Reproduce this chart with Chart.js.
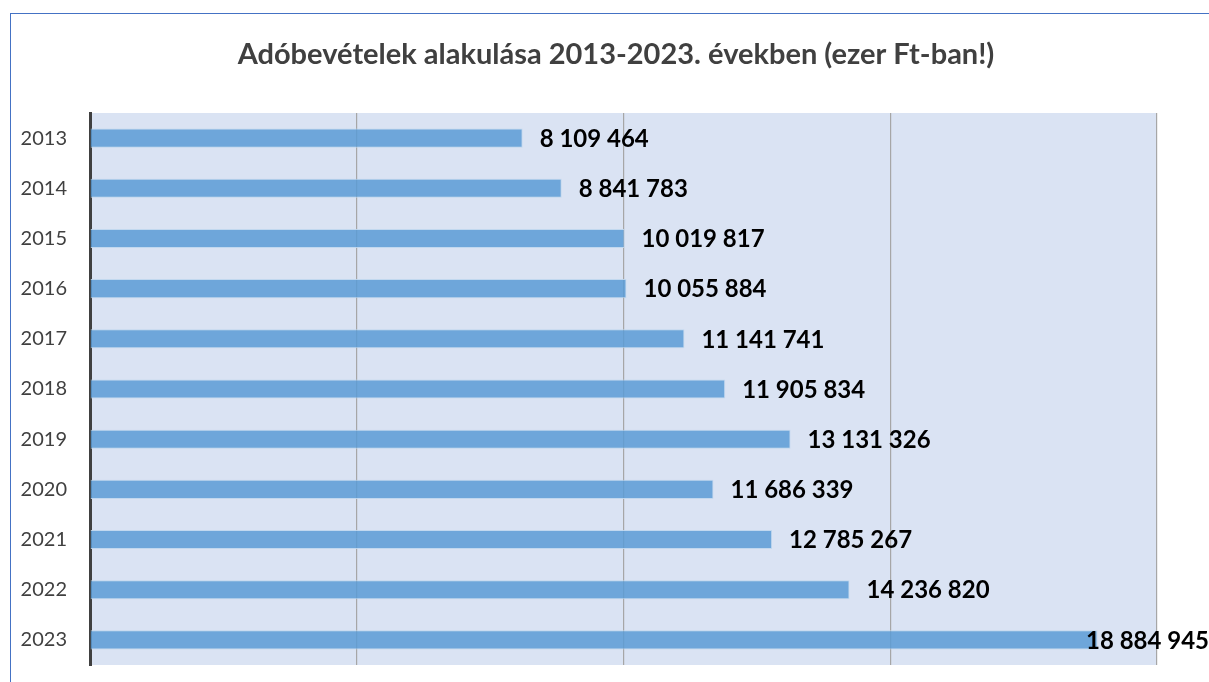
<!DOCTYPE html>
<html>
<head>
<meta charset="utf-8">
<script src="https://cdn.jsdelivr.net/npm/chart.js@4/dist/chart.umd.min.js"></script>
<style>
  html, body { margin: 0; padding: 0; background: #fff; overflow: hidden; }
  #frame { position: absolute; left: 10px; top: 13px; width: 1400px; height: 900px;
           border-left: 1.5px solid #4472c4; border-top: 1.5px solid #4472c4; }
  canvas { position: absolute; left: 0; top: 0; }
</style>
</head>
<body>
<div id="frame"></div>
<canvas id="chart" width="1209" height="682"></canvas>
<script>
const title = "Adóbevételek alakulása 2013-2023. években (ezer Ft-ban!)"
const years = ["2013", "2014", "2015", "2016", "2017", "2018", "2019", "2020", "2021", "2022", "2023"]
const revenue = [8109464, 8841783, 10019817, 10055884, 11141741, 11905834, 13131326, 11686339, 12785267, 14236820, 18884945]
const xMin = 0
const xMax = 20000000
const xStep = 5000000

const fmt = v => String(v).replace(/\B(?=(\d{3})+(?!\d))/g, " ")

const plotBg = {
  id: "plotBg",
  beforeDraw(chart) {
    const { ctx, chartArea: a } = chart
    ctx.save()
    ctx.fillStyle = "#dae3f3"
    ctx.fillRect(a.left, a.top, a.right - a.left, a.bottom - a.top)
    ctx.restore()
  }
}

const titleDraw = {
  id: "titleDraw",
  afterDraw(chart) {
    const ctx = chart.ctx
    ctx.save()
    ctx.font = "bold 29px Lato"
    ctx.fillStyle = "#404040"
    ctx.textAlign = "center"
    ctx.textBaseline = "middle"
    ctx.fillText(title, 616, 55)
    ctx.restore()
  }
}

const valueLabels = {
  id: "valueLabels",
  afterDatasetsDraw(chart) {
    const ctx = chart.ctx
    const meta = chart.getDatasetMeta(0)
    ctx.save()
    ctx.font = "bold 24px Lato"
    ctx.fillStyle = "#000"
    ctx.textBaseline = "middle"
    meta.data.forEach((bar, i) => {
      const txt = fmt(revenue[i])
      const w = ctx.measureText(txt).width
      let x = bar.x + 17
      if (x + w > chart.width) x = chart.width - w
      ctx.fillText(txt, x, bar.y + 1)
    })
    ctx.restore()
  }
}

new Chart(document.getElementById("chart"), {
  type: "bar",
  data: {
    labels: years,
    datasets: [{
      data: revenue,
      backgroundColor: "rgba(91, 155, 213, 0.85)",
      borderColor: "rgba(190, 214, 238, 0.9)",
      borderWidth: 1,
      barPercentage: 0.38,
      categoryPercentage: 1
    }]
  },
  options: {
    indexAxis: "y",
    responsive: false,
    animation: false,
    layout: { padding: { left: 0, top: 113, right: 52, bottom: 17 } },
    plugins: {
      legend: { display: false },
      tooltip: { enabled: false }
    },
    scales: {
      x: {
        min: xMin,
        max: xMax,
        ticks: { display: false, stepSize: xStep },
        grid: { color: "#a6a6a6", lineWidth: 1.2, drawTicks: false },
        border: { display: false },
        afterFit: s => { s.height = 0 }
      },
      y: {
        ticks: {
          color: "#404040",
          font: { family: "Lato", size: 20 },
          padding: 23
        },
        grid: { display: false, drawTicks: false },
        border: { color: "#404040", width: 3 },
        // fixed axis width, and no extra room for tick labels at the ends
        afterFit: s => { s.width = 90; s.paddingTop = 0; s.paddingBottom = 0 }
      }
    }
  },
  plugins: [plotBg, valueLabels, titleDraw]
})
</script>
</body>
</html>
